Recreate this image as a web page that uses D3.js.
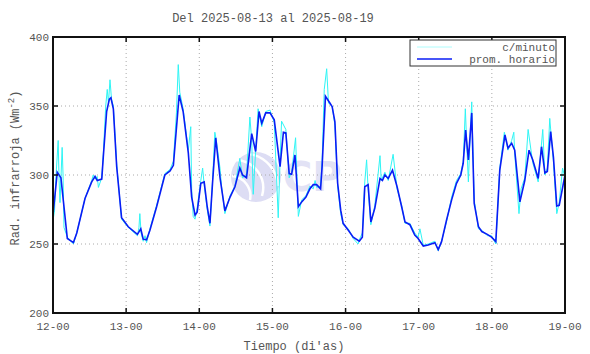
<!DOCTYPE html>
<html>
<head>
<meta charset="utf-8">
<script src="https://cdn.jsdelivr.net/npm/d3@7"></script>
<style>
body { margin: 0; background: #fff; }
text { font-family: "Liberation Mono", "DejaVu Sans Mono", monospace; fill: #555; }
</style>
</head>
<body>
<svg width="590" height="354"></svg>
<script>
// tick labels (dias)
var diasHoras = [0, 24, 48, 72, 96, 120, 144, 168]
var diasEtiquetas = ["12-00", "13-00", "14-00", "15-00", "16-00", "17-00", "18-00", "19-00"]
var yTicks = [200, 250, 300, 350, 400]

// promedio horario (horas desde 12-00, Wm-2)
var promHoras = [0, 1.4, 2.6, 4.7, 6.7, 7.8, 10.5, 12.7, 13.8, 14.5, 16, 16.5, 17.6, 18.5, 19, 19.8, 20.9, 22.5, 24.7, 27.7,
  28.8, 29.6, 30.7, 31.8, 34, 36.7, 38.4, 39.5, 41.4, 42.7, 44.4, 45.5, 46.6, 47.3, 48.5, 49.6, 50.6, 51.5, 52.4, 53.4,
  54.8, 56.4, 58.1, 59.7, 61.3, 62.2, 63.5, 65.2, 66.5, 67.6, 68.5, 69.8, 71.2, 72.6, 74.5, 75.6, 76.4, 77.5, 78.3, 79.4,
  80.5, 81.6, 83, 84.3, 85.4, 86.5, 87.8, 88.3, 89.4, 90.9, 91.6, 92.5, 93.4, 94.4, 95.2, 96.9, 98.5, 100.5, 101.5, 102.3,
  103.4, 104.3, 105.6, 107.3, 108.1, 108.9, 110, 111.4, 112.9, 114.4, 115.5, 117.1, 118.7, 119.8, 121.5, 123.1, 125.3, 126.4, 127.5, 129.1,
  130.8, 132.4, 133.8, 134.6, 135.4, 136.3, 137.4, 138.2, 139.6, 140.7, 142.5, 143.9, 145.3, 146.6, 148.3, 149.3, 150.5, 151.5, 153.2, 154.8,
  156.2, 157.4, 159.2, 160.3, 161.4, 162.2, 163.3, 164.2, 165.3, 166.1, 168]
var promValores = [271, 302, 298, 254, 251, 258, 283, 295, 299, 296, 297, 313, 346, 355, 356, 348, 306, 269, 262.5, 257,
  261, 253.5, 253, 260, 277, 300, 303, 307, 358, 346, 316, 284, 271, 273, 294, 295, 277, 265, 296, 327,
  298, 274, 284, 291.5, 305, 300, 298, 330, 317, 346, 337.5, 345, 345, 340, 306, 331, 330.5, 301, 300.5, 314.5,
  277, 280.5, 284, 290, 293, 293, 290, 306, 357, 352, 349.5, 338.5, 294, 274.5, 265, 260, 255, 252, 255, 291.5,
  293, 266, 276, 297.5, 296, 300, 297.5, 303.5, 291.5, 277, 266, 264, 256.5, 254, 248.5, 249.3, 251, 246, 251.7, 267,
  282, 294, 300, 308.5, 332.5, 311, 345, 279.5, 262.5, 259, 257, 255, 251.7, 303.5, 329, 319.5, 323, 318, 280.5, 296,
  318, 311, 297.5, 320.5, 301.5, 302.5, 331.5, 313, 277.5, 278, 300]

// datos c/minuto
var minHoras = [0, 0.5, 1.0, 1.7, 2.0, 2.3, 3.0, 3.3, 3.6, 4.7, 6.7, 7.8, 10.5, 12.7, 13.2, 13.8, 14.5, 14.9, 16, 16.5,
  17.3, 17.8, 18.2, 18.7, 19.2, 19.8, 20.9, 22.5, 24.7, 27.7, 28.2, 28.5, 28.9, 29.6, 30.2, 30.7, 31.8, 34, 36.7, 38.4,
  39.5, 40.5, 41.1, 41.6, 42.7, 44.4, 45.2, 45.5, 46, 46.6, 47.3, 48.5, 49.1, 49.6, 50.6, 51.5, 52.4, 53.1, 53.6, 54.8,
  55.3, 56.4, 58.1, 59.7, 61.3, 62.2, 63.5, 64.6, 65.2, 65.7, 66.5, 67.3, 68.5, 69.8, 71.2, 72.6, 73.9, 74.5, 75, 76.4,
  77.5, 78.3, 79.6, 80.5, 81.6, 83, 84.3, 85.4, 86, 86.5, 87.8, 88.3, 89.0, 89.8, 90.4, 91.6, 92.5, 93.4, 94.4, 95.2,
  96.9, 98.5, 100.1, 100.5, 101.5, 102.3, 102.9, 103.4, 104.3, 105.6, 107.3, 107.7, 108.9, 110, 111.6, 112.9, 114.4, 115.5, 117.1, 118.7,
  119.8, 120.4, 121.5, 123.1, 125.3, 126.4, 127.5, 129.1, 130.8, 132.4, 133.8, 134.6, 135.3, 135.8, 136.3, 136.9, 137.4, 138.2, 139.6, 140.7,
  142.5, 143.9, 145.3, 146.6, 148.1, 149.3, 150.5, 151.2, 151.5, 152.9, 153.6, 154.8, 155.9, 157.4, 159.2, 160.7, 161.4, 162.2, 163, 163.6,
  164.2, 165.3, 166.1, 167.2, 168]
var minValores = [267, 274, 300, 325, 296, 280, 320, 300, 262, 255, 250, 258, 283, 296, 300, 297, 299, 291, 298, 315,
  350, 362, 352, 369, 355, 350, 308, 268, 262, 256, 262, 272, 258, 252, 256, 251, 261, 278, 301, 304,
  310, 345, 380, 360, 348, 318, 335, 290, 270, 268, 276, 296, 305, 293, 275, 263, 298, 331, 325, 305,
  292, 272, 285, 292, 312, 298, 300, 342, 325, 286, 318, 348, 335, 346, 347, 338, 269, 310, 339, 333,
  298, 302, 327, 270, 282, 285, 292, 290, 296, 291, 292, 310, 362, 377, 352, 350, 336, 292, 272, 264,
  261, 254, 250, 253, 258, 295, 311, 290, 264, 278, 314, 296, 302, 296, 315, 290, 278, 265, 265, 258,
  255, 261, 249, 250, 252, 245, 252, 266, 284, 296, 301, 310, 348, 320, 295, 330, 353, 282, 261, 260,
  256, 256, 250, 305, 331, 318, 325, 331, 316, 272, 290, 298, 333, 309, 295, 333, 300, 305, 341, 325,
  310, 272, 280, 305, 298]

var svg = d3.select("svg")
var mLeft = 53, mRight = 565, mTop = 37, mBottom = 313

var x = d3.scaleLinear().domain([0, 168]).range([mLeft, mRight])
var y = d3.scaleLinear().domain([200, 400]).range([mBottom, mTop])

// watermark
var wm = svg.append("g").attr("opacity", 0.7)
wm.append("circle").attr("cx", 256).attr("cy", 177).attr("r", 25).attr("fill", "#cfcff0")
wm.append("path").attr("d", "M236,160 A28,28 0 0 1 262,196 M232,176 A20,20 0 0 1 250,200 M250,154 A34,34 0 0 1 278,186")
  .attr("fill", "none").attr("stroke", "#fff").attr("stroke-width", 2.5)
wm.append("text").attr("x", 283).attr("y", 191).text("CP")
  .style("font-family", "DejaVu Sans").style("font-weight", "bold").style("font-size", "40px").style("fill", "#d6d6f2")

// grid
var grid = svg.append("g").attr("stroke", "#aaa").attr("stroke-dasharray", "1,3")
grid.selectAll(".gx").data(diasHoras.slice(1, -1)).enter().append("line")
  .attr("x1", function(d) { return x(d) }).attr("x2", function(d) { return x(d) })
  .attr("y1", mTop).attr("y2", mBottom)
grid.selectAll(".gy").data(yTicks.slice(1, -1)).enter().append("line")
  .attr("x1", mLeft).attr("x2", mRight)
  .attr("y1", function(d) { return y(d) }).attr("y2", function(d) { return y(d) })

// series
var linea = d3.line().x(function(d) { return x(d[0]) }).y(function(d) { return y(d[1]) })
var datosMin = minHoras.map(function(h, i) { return [h, minValores[i]] })
var datosProm = promHoras.map(function(h, i) { return [h, promValores[i]] })

svg.append("path").datum(datosMin).attr("d", linea)
  .attr("fill", "none").attr("stroke", "#2ef5f5").attr("stroke-width", 1)
svg.append("path").datum(datosProm).attr("d", linea)
  .attr("fill", "none").attr("stroke", "#0a1cf5").attr("stroke-width", 1.6)

// axes (ticks inward, all sides)
var tickLen = 5
var axes = svg.append("g").attr("stroke", "#111").attr("stroke-width", 1.5)
diasHoras.forEach(function(h) {
  axes.append("line").attr("x1", x(h)).attr("x2", x(h)).attr("y1", mBottom).attr("y2", mBottom - tickLen)
  axes.append("line").attr("x1", x(h)).attr("x2", x(h)).attr("y1", mTop).attr("y2", mTop + tickLen)
})
yTicks.forEach(function(v) {
  axes.append("line").attr("x1", mLeft).attr("x2", mLeft + tickLen).attr("y1", y(v)).attr("y2", y(v))
  axes.append("line").attr("x1", mRight).attr("x2", mRight - tickLen).attr("y1", y(v)).attr("y2", y(v))
})
svg.append("rect").attr("x", mLeft).attr("y", mTop).attr("width", mRight - mLeft).attr("height", mBottom - mTop)
  .attr("fill", "none").attr("stroke", "#111").attr("stroke-width", 2)

// tick labels
svg.selectAll(".xl").data(diasHoras).enter().append("text")
  .attr("x", function(d) { return x(d) }).attr("y", 330)
  .attr("text-anchor", "middle").style("font-size", "11px")
  .text(function(d, i) { return diasEtiquetas[i] })
svg.selectAll(".yl").data(yTicks).enter().append("text")
  .attr("x", mLeft - 4).attr("y", function(d) { return y(d) + 4 })
  .attr("text-anchor", "end").style("font-size", "11px")
  .text(function(d) { return d })

// titles
svg.append("text").attr("x", 273).attr("y", 22).attr("text-anchor", "middle")
  .style("font-size", "12px").text("Del 2025-08-13 al 2025-08-19")
svg.append("text").attr("x", 294).attr("y", 350).attr("text-anchor", "middle")
  .style("font-size", "12px").text("Tiempo (di'as)")
var yl = svg.append("text").attr("transform", "translate(19,168) rotate(-90)")
  .attr("text-anchor", "middle").style("font-size", "12px")
yl.append("tspan").text("Rad. infrarroja (Wm")
yl.append("tspan").attr("dy", -5).style("font-size", "9px").text("-2")
yl.append("tspan").attr("dy", 5).text(")")

// legend
var lg = svg.append("g")
lg.append("rect").attr("x", 410).attr("y", 40).attr("width", 146).attr("height", 26)
  .attr("fill", "#fff").attr("stroke", "#333").attr("stroke-width", 1)
lg.append("line").attr("x1", 417).attr("x2", 452).attr("y1", 47).attr("y2", 47)
  .attr("stroke", "#aefcfc").attr("stroke-width", 1)
lg.append("line").attr("x1", 417).attr("x2", 452).attr("y1", 59).attr("y2", 59)
  .attr("stroke", "#0a1cf5").attr("stroke-width", 1.5)
lg.append("text").attr("x", 555).attr("y", 51).attr("text-anchor", "end").style("font-size", "11px").text("c/minuto")
lg.append("text").attr("x", 555).attr("y", 63).attr("text-anchor", "end").style("font-size", "11px").text("prom. horario")
</script>
</body>
</html>
